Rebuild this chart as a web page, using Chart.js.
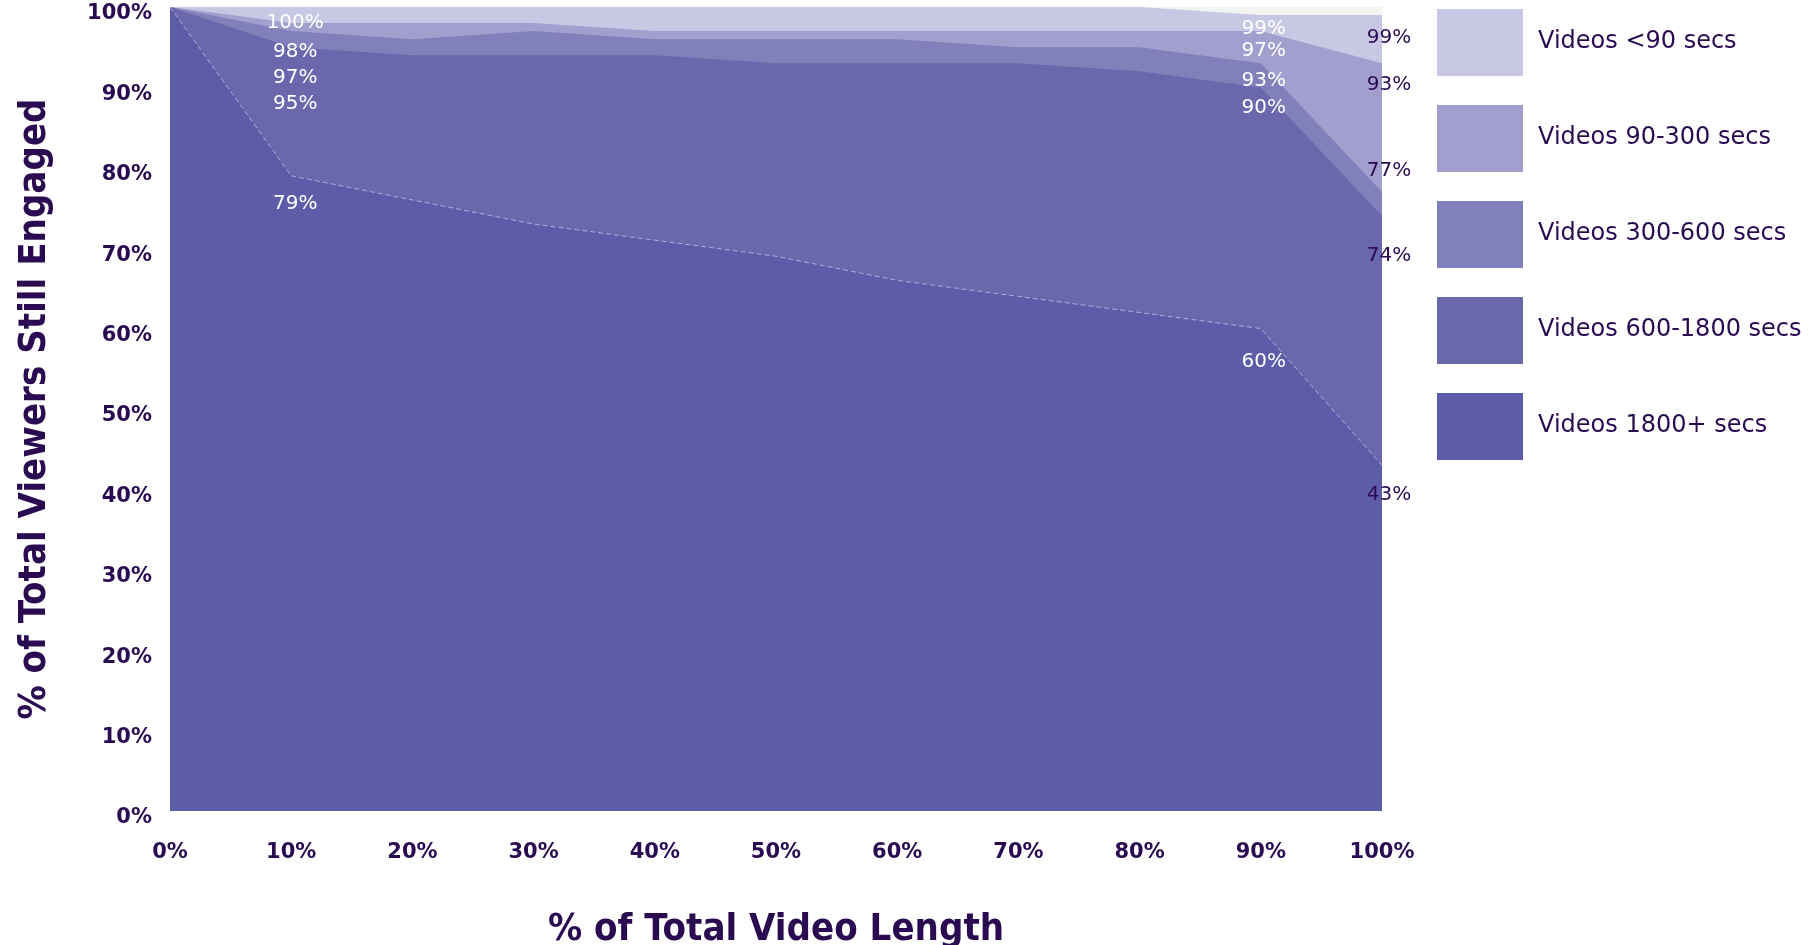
<!DOCTYPE html>
<html>
<head>
<meta charset="utf-8">
<title>Viewer engagement by video length</title>
<script src="https://cdn.jsdelivr.net/npm/chart.js@4.4.1/dist/chart.umd.min.js"></script>
<style>
  html, body { margin: 0; padding: 0; background: #fff; }
  .wrap { position: relative; width: 1810px; height: 945px; }
  .legend { position: absolute; left: 1437px; top: 9px; margin: 0; padding: 0; list-style: none; }
  .legend li { display: flex; align-items: center; height: 67px; margin-bottom: 29px; }
  .legend .box { width: 86px; height: 67px; flex: none; }
  .legend .txt { margin-left: 15px; font: 24px 'DejaVu Sans', sans-serif; color: #2a0b52; white-space: nowrap; margin-top: -6px; }
</style>
</head>
<body>
<div class="wrap">
  <canvas id="engagementChart"></canvas>
  <ul class="legend" id="legend"></ul>
</div>
<script>
// x axis: % of the video watched
const xLabels = ['0%', '10%', '20%', '30%', '40%', '50%', '60%', '70%', '80%', '90%', '100%'];

const seriesNames = ['Videos <90 secs', 'Videos 90-300 secs', 'Videos 300-600 secs', 'Videos 600-1800 secs', 'Videos 1800+ secs'];

// % of viewers still engaged, one value per x label
const under90 = [100, 100, 100, 100, 100, 100, 100, 100, 100, 99, 99];
const from90to300 = [100, 98, 98, 98, 97, 97, 97, 97, 97, 97, 93];
const from300to600 = [100, 97, 96, 97, 96, 96, 96, 95, 95, 93, 77];
const from600to1800 = [100, 95, 94, 94, 94, 93, 93, 93, 92, 90, 74];
const over1800 = [100, 79, 76, 73, 71, 69, 66, 64, 62, 60, 43];

const seriesValues = [under90, from90to300, from300to600, from600to1800, over1800];

const colors = ['#c8c8e4', '#a29fce', '#8280bb', '#6a67ad', '#5d5ca8'];
const textColor = '#2a0b52';
const titleFont = "'Liberation Sans Narrow', 'DejaVu Sans Condensed', 'Roboto Condensed', sans-serif";

// where the value labels sit: x index, offsets in px per series (same order as seriesNames)
const labelSpots = [
    { index: 1, dx: 4, color: '#ffffff', dy: [16, 29, 47, 57, 28] },
    { index: 9, dx: 3, color: '#ffffff', dy: [14, 20, 18, 20, 33] },
    { index: 10, dx: 7, color: textColor, dy: [23, 22, -21, 40, 30] }
];

const plotBackground = {
    id: 'plotBackground',
    beforeDraw(chart) {
        const { ctx, chartArea } = chart;
        ctx.save();
        ctx.fillStyle = '#f1f4f1';
        ctx.fillRect(chartArea.left, chartArea.top, chartArea.right - chartArea.left, chartArea.bottom - chartArea.top);
        ctx.restore();
    }
};

const valueLabels = {
    id: 'valueLabels',
    afterDatasetsDraw(chart) {
        const { ctx, scales } = chart;
        ctx.save();
        ctx.font = "20px 'DejaVu Sans', sans-serif";
        ctx.textAlign = 'center';
        ctx.textBaseline = 'middle';
        labelSpots.forEach(spot => {
            seriesValues.forEach((values, s) => {
                const v = values[spot.index];
                const x = scales.x.getPixelForValue(spot.index) + spot.dx;
                const y = scales.y.getPixelForValue(v) + spot.dy[s];
                ctx.fillStyle = spot.color;
                ctx.fillText(v + '%', x, y);
            });
        });
        ctx.restore();
    }
};

document.addEventListener('DOMContentLoaded', function() {
    const datasets = seriesNames.map((name, i) => ({
        label: name,
        data: seriesValues[i],
        backgroundColor: colors[i],
        borderColor: i === 4 ? 'rgba(205, 205, 240, 0.7)' : colors[i],
        borderWidth: i === 4 ? 1 : 0,
        borderDash: i === 4 ? [5, 3] : [],
        fill: 'origin',
        tension: 0,
        pointRadius: 0,
        order: seriesNames.length - i
    }));

    new Chart(document.getElementById('engagementChart'), {
        type: 'line',
        data: { labels: xLabels, datasets: datasets },
        options: {
            responsive: true,
            maintainAspectRatio: false,
            animation: false,
            layout: { padding: { top: 7, right: 428, bottom: 0, left: 0 } },
            plugins: {
                legend: { display: false },
                tooltip: { enabled: false }
            },
            scales: {
                x: {
                    grid: { display: false, drawTicks: false },
                    border: { display: false },
                    ticks: {
                        color: textColor,
                        padding: 29,
                        maxRotation: 0,
                        font: { family: 'DejaVu Sans', size: 21, weight: 'bold' }
                    },
                    title: {
                        display: true,
                        text: '% of Total Video Length',
                        color: textColor,
                        padding: { top: 0, bottom: 0 },
                        font: { family: titleFont, size: 38, weight: 'bold', lineHeight: 0.8 }
                    },
                    afterFit(scale) {
                        scale.height = 134;
                        scale.paddingLeft = 0;
                        scale.paddingRight = 0;
                    }
                },
                y: {
                    min: 0,
                    max: 100,
                    grid: { display: false, drawTicks: false },
                    border: { display: false },
                    ticks: {
                        stepSize: 10,
                        color: textColor,
                        padding: 18,
                        labelOffset: 7,
                        font: { family: 'DejaVu Sans', size: 21, weight: 'bold' },
                        callback: v => v + '%'
                    },
                    title: {
                        display: true,
                        text: '% of Total Viewers Still Engaged',
                        color: textColor,
                        padding: { top: 16, bottom: 0 },
                        font: { family: titleFont, size: 38, weight: 'bold', lineHeight: 1 }
                    },
                    afterFit(scale) {
                        scale.width = 170;
                        scale.paddingTop = 0;
                        scale.paddingBottom = 0;
                    }
                }
            }
        },
        plugins: [plotBackground, valueLabels]
    });

    // legend built from the same series
    const legend = document.getElementById('legend');
    seriesNames.forEach((name, i) => {
        const li = document.createElement('li');
        li.innerHTML = '<span class="box" style="background:' + colors[i] + '"></span><span class="txt">' + name.replace('<', '&lt;') + '</span>';
        legend.appendChild(li);
    });
});
</script>
</body>
</html>
